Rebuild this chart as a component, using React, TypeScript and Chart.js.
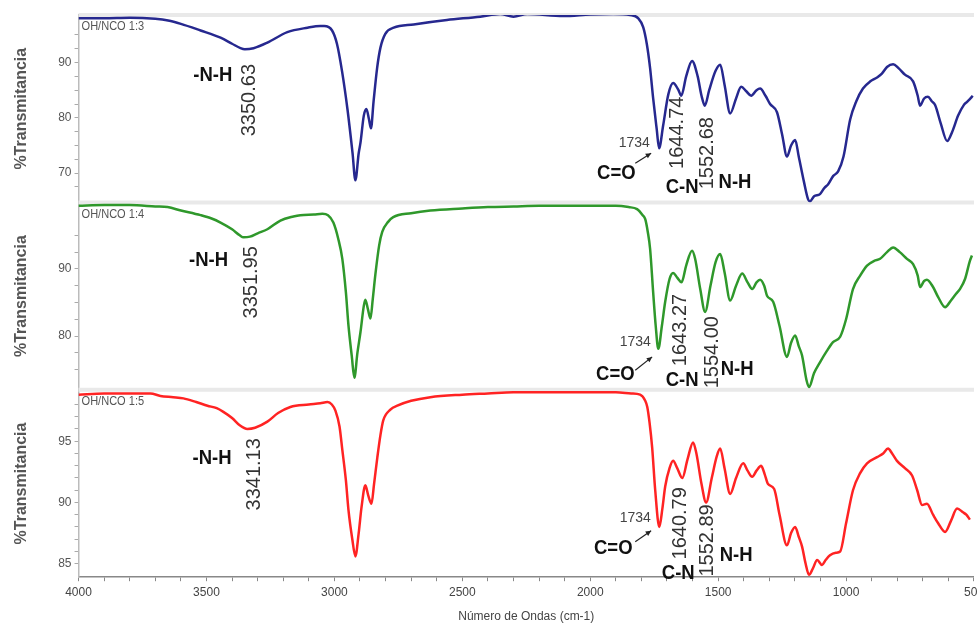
import React, { useEffect, useRef } from 'react';
import { Chart, registerables } from 'chart.js';

Chart.register(...registerables);

const SANS = "'Liberation Sans', Arial, sans-serif";

// ---------- data: wavenumber (cm-1) and % transmittance ----------
const wnBlue = [4000, 3900, 3800, 3700, 3650, 3600, 3523, 3445, 3400, 3367, 3350, 3316, 3262, 3184, 3105, 3055, 3040, 3009, 2990, 2970, 2949, 2929, 2918, 2905, 2898, 2885, 2875, 2865, 2857, 2847, 2833, 2820, 2801, 2768, 2690, 2560, 2430, 2352, 2300, 2246, 2105, 2000, 1910, 1844, 1812, 1793, 1779, 1766, 1754, 1740, 1731, 1715, 1695, 1676, 1656, 1644, 1625, 1602, 1580, 1565, 1552, 1535, 1510, 1492, 1475, 1453, 1430, 1410, 1390, 1371, 1350, 1336, 1315, 1297, 1270, 1250, 1231, 1215, 1199, 1185, 1165, 1148, 1141, 1125, 1102, 1085, 1070, 1050, 1031, 1010, 984, 960, 934, 905, 879, 860, 840, 816, 795, 770, 738, 720, 711, 695, 680, 665, 652, 630, 605, 585, 562, 540, 527, 512, 505];
const tBlue = [98.0, 98.0, 98.1, 97.9, 97.6, 97.0, 95.8, 94.5, 93.4, 92.6, 92.4, 92.6, 93.6, 95.5, 96.3, 96.6, 96.6, 95.8, 93.4, 88.4, 81.6, 73.6, 68.7, 73.6, 75.5, 80.4, 81.6, 79.8, 78.1, 82.9, 89.0, 92.7, 95.2, 96.3, 96.9, 97.7, 98.3, 98.8, 98.3, 98.8, 98.4, 98.7, 98.8, 98.6, 98.0, 96.4, 93.4, 89.0, 83.5, 77.9, 74.5, 78.6, 84.2, 86.3, 85.1, 84.0, 87.5, 90.3, 87.5, 84.0, 82.2, 85.0, 88.5, 89.6, 86.0, 80.8, 83.5, 85.6, 84.8, 84.0, 85.0, 85.3, 84.0, 82.5, 81.0, 77.0, 73.0, 75.0, 76.0, 73.0, 68.5, 65.2, 64.9, 65.8, 66.2, 67.3, 68.0, 69.5, 70.3, 73.0, 79.7, 83.0, 85.3, 86.6, 87.3, 88.0, 89.2, 89.7, 89.0, 87.8, 86.6, 84.0, 82.2, 83.5, 83.8, 83.0, 82.3, 79.0, 75.8, 77.5, 80.4, 82.3, 82.9, 83.6, 84.0];

const wnGreen = [4000, 3900, 3800, 3700, 3652, 3600, 3523, 3480, 3445, 3400, 3370, 3355, 3330, 3300, 3262, 3211, 3160, 3133, 3080, 3047, 3025, 3004, 2985, 2969, 2955, 2945, 2932, 2922, 2910, 2898, 2885, 2879, 2869, 2859, 2850, 2840, 2825, 2813, 2790, 2770, 2700, 2625, 2500, 2400, 2300, 2200, 2100, 2000, 1900, 1850, 1817, 1795, 1785, 1775, 1766, 1754, 1744, 1734, 1720, 1707, 1690, 1676, 1660, 1643, 1625, 1602, 1590, 1570, 1551, 1530, 1510, 1492, 1475, 1453, 1430, 1406, 1385, 1367, 1350, 1336, 1320, 1309, 1285, 1260, 1231, 1215, 1199, 1185, 1172, 1155, 1145, 1125, 1102, 1075, 1051, 1023, 1000, 973, 945, 918, 890, 867, 840, 816, 790, 762, 738, 720, 711, 695, 684, 660, 640, 613, 590, 570, 555, 535, 516, 508];
const tGreen = [99.4, 99.5, 99.5, 99.3, 99.2, 98.7, 98.0, 97.5, 96.9, 95.9, 95.0, 94.7, 94.8, 95.3, 95.9, 97.2, 97.8, 98.0, 98.1, 98.2, 98.0, 96.9, 94.5, 91.5, 86.5, 81.6, 77.0, 73.8, 77.5, 80.6, 84.5, 85.4, 84.0, 82.6, 85.5, 89.1, 93.5, 95.5, 97.0, 97.7, 98.3, 98.7, 99.0, 99.2, 99.3, 99.4, 99.4, 99.4, 99.4, 99.2, 98.9, 98.0, 97.4, 95.5, 93.0, 86.5, 81.5, 78.1, 81.5, 85.1, 88.5, 89.4, 88.7, 88.0, 90.5, 92.7, 91.5, 87.0, 83.6, 87.5, 91.0, 92.2, 89.5, 85.3, 87.5, 89.3, 88.0, 87.0, 88.0, 88.4, 87.5, 86.0, 85.1, 81.5, 76.9, 79.0, 80.1, 78.5, 77.1, 73.5, 72.4, 74.5, 76.1, 77.8, 79.1, 79.9, 82.5, 87.0, 89.0, 90.5, 91.2, 91.5, 92.5, 93.2, 92.5, 91.5, 90.7, 89.0, 87.3, 88.2, 88.4, 87.3, 85.8, 84.3, 85.3, 86.3, 87.0, 88.5, 91.2, 92.0];

const wnRed = [4000, 3900, 3800, 3719, 3680, 3630, 3590, 3540, 3496, 3460, 3434, 3400, 3370, 3340, 3310, 3262, 3220, 3172, 3100, 3055, 3027, 3010, 2996, 2980, 2969, 2955, 2945, 2930, 2918, 2905, 2894, 2879, 2868, 2855, 2845, 2832, 2820, 2809, 2780, 2754, 2700, 2625, 2500, 2400, 2300, 2200, 2100, 2000, 1900, 1840, 1805, 1785, 1777, 1768, 1758, 1746, 1730, 1718, 1707, 1690, 1676, 1660, 1640, 1620, 1598, 1585, 1565, 1547, 1525, 1505, 1492, 1475, 1453, 1430, 1402, 1385, 1367, 1350, 1332, 1318, 1305, 1281, 1260, 1231, 1215, 1199, 1185, 1172, 1158, 1145, 1130, 1113, 1094, 1080, 1063, 1040, 1023, 1000, 973, 945, 918, 879, 855, 836, 820, 801, 770, 742, 722, 703, 684, 660, 640, 613, 590, 566, 543, 530, 516];
const tRed = [98.8, 98.9, 98.9, 98.9, 98.7, 98.6, 98.5, 98.2, 97.9, 97.7, 97.4, 96.9, 96.3, 96.0, 96.1, 96.6, 97.3, 97.8, 98.0, 98.1, 98.2, 98.0, 97.5, 96.2, 94.3, 91.8, 89.4, 87.0, 85.6, 87.5, 89.6, 91.4, 90.6, 89.9, 91.5, 93.7, 95.5, 96.7, 97.6, 97.9, 98.3, 98.6, 98.8, 98.9, 99.0, 99.0, 99.0, 99.0, 99.0, 98.9, 98.8, 98.3, 97.8, 96.5, 94.5, 91.0, 88.0, 89.5, 91.3, 92.8, 93.4, 92.8, 92.0, 93.5, 94.9, 94.0, 91.5, 90.0, 92.0, 93.8, 94.4, 92.8, 90.7, 92.0, 93.2, 92.6, 92.1, 92.6, 93.0, 92.3, 91.5, 91.1, 89.0, 86.5, 87.5, 88.0, 87.2, 86.4, 85.0, 84.1, 84.6, 85.3, 84.9, 85.3, 85.7, 85.9, 86.0, 88.3, 91.0, 92.4, 93.2, 93.7, 94.0, 94.4, 94.0, 93.4, 92.8, 92.2, 91.0, 89.8, 89.9, 89.0, 88.3, 87.6, 88.5, 89.5, 89.2, 89.0, 88.6];

const panelNames = ['OH/NCO 1:3', 'OH/NCO 1:4', 'OH/NCO 1:5'];

// peak labels: [text, wavenumber, transmittance]
const boldBlue: [string, number, number][] = [['-N-H', 3475, 87.7], ['C=O', 1898, 69.9], ['C-N', 1641, 67.5], ['N-H', 1434, 68.4]];
const peaksBlue: [string, number, number][] = [['3350.63', 3330, 83.2], ['1644.74', 1660, 77.3], ['1552.68', 1543, 73.6]];
const markBlue: [string, number, number][] = [['1734', 1828, 75.5]];
const arrowBlue = [1824, 71.8, 1762, 73.6];

const boldGreen: [string, number, number][] = [['-N-H', 3492, 91.3], ['C=O', 1902, 74.3], ['C-N', 1641, 73.4], ['N-H', 1426, 75.1]];
const peaksGreen: [string, number, number][] = [['3351.95', 3324, 88.0], ['1643.27', 1648, 80.9], ['1554.00', 1523, 77.6]];
const markGreen: [string, number, number][] = [['1734', 1824, 79.1]];
const arrowGreen = [1824, 74.9, 1758, 76.9];

const boldRed: [string, number, number][] = [['-N-H', 3478, 93.6], ['C=O', 1910, 86.3], ['C-N', 1656, 84.2], ['N-H', 1430, 85.7]];
const peaksRed: [string, number, number][] = [['3341.13', 3312, 92.3], ['1640.79', 1648, 88.3], ['1552.89', 1543, 86.9]];
const markRed: [string, number, number][] = [['1734', 1824, 88.7]];
const arrowRed = [1824, 86.8, 1762, 87.7];

const panels = [
  { axis: 'yBlue', name: panelNames[0], bold: boldBlue, peaks: peaksBlue, marks: markBlue, arrow: arrowBlue },
  { axis: 'yGreen', name: panelNames[1], bold: boldGreen, peaks: peaksGreen, marks: markGreen, arrow: arrowGreen },
  { axis: 'yRed', name: panelNames[2], bold: boldRed, peaks: peaksRed, marks: markRed, arrow: arrowRed },
];

const toXY = (w: number[], t: number[]) => w.map((v, i) => ({ x: v, y: t[i] }));

function yAxis(min: number, max: number, step: number, labelEvery: number) {
  return {
    type: 'linear' as const,
    position: 'left' as const,
    stack: 'ir',
    stackWeight: 1,
    min,
    max,
    afterBuildTicks: (scale: any) => {
      scale.ticks = scale.ticks.filter((t: any) => Math.abs(t.value / step - Math.round(t.value / step)) < 1e-6);
    },
    ticks: {
      stepSize: step,
      autoSkip: false,
      color: '#555',
      font: { family: SANS, size: 12 },
      padding: 3,
      callback: (v: any) => (Math.abs(v / labelEvery - Math.round(v / labelEvery)) < 1e-6 ? String(Math.round(v)) : ''),
    },
    grid: { drawOnChartArea: false, drawTicks: true, tickLength: 4, color: '#aaa' },
    border: { display: true, color: '#bbb', width: 1.5 },
    title: {
      display: true,
      text: '%Transmitancia',
      color: '#555',
      font: { family: SANS, size: 16, weight: 'bold' as const },
      padding: { top: 0, bottom: 24 },
    },
  };
}

function drawScaledText(ctx: any, txt: string, x: number, y: number, sx: number, rotate: boolean) {
  ctx.save();
  ctx.translate(x, y);
  if (rotate) ctx.rotate(-Math.PI / 2);
  ctx.scale(sx, 1);
  ctx.fillText(txt, 0, 0);
  ctx.restore();
}

const annotationPlugin = {
  id: 'irAnnotations',
  beforeDatasetsDraw(chart: any) {
    const { ctx, chartArea } = chart;
    ctx.save();
    panels.forEach((p) => {
      const s = chart.scales[p.axis];
      ctx.strokeStyle = '#e9e9e9';
      ctx.lineWidth = 4;
      ctx.beginPath();
      ctx.moveTo(chartArea.left, s.top);
      ctx.lineTo(chartArea.right, s.top);
      ctx.stroke();
    });
    ctx.restore();
  },
  afterDatasetsDraw(chart: any) {
    const { ctx, chartArea } = chart;
    const xs = chart.scales.x;
    ctx.save();
    panels.forEach((p) => {
      const s = chart.scales[p.axis];
      // panel name
      ctx.fillStyle = '#555';
      ctx.font = `12px ${SANS}`;
      ctx.textAlign = 'left';
      ctx.textBaseline = 'top';
      drawScaledText(ctx, p.name, chartArea.left + 3, s.top + 6, 0.92, false);
      // bold group labels
      ctx.fillStyle = '#111';
      ctx.font = `bold 21px ${SANS}`;
      ctx.textAlign = 'center';
      ctx.textBaseline = 'middle';
      p.bold.forEach(([txt, w, t]) => drawScaledText(ctx, txt, xs.getPixelForValue(w), s.getPixelForValue(t), 0.88, false));
      // rotated peak wavenumbers
      ctx.fillStyle = '#333';
      ctx.font = `20px ${SANS}`;
      p.peaks.forEach(([txt, w, t]) => drawScaledText(ctx, txt, xs.getPixelForValue(w), s.getPixelForValue(t), 1, true));
      // 1734 mark
      ctx.fillStyle = '#444';
      ctx.font = `14px ${SANS}`;
      p.marks.forEach(([txt, w, t]) => drawScaledText(ctx, txt, xs.getPixelForValue(w), s.getPixelForValue(t), 1, false));
      // arrow
      const [w1, t1, w2, t2] = p.arrow;
      const x1 = xs.getPixelForValue(w1), y1 = s.getPixelForValue(t1);
      const x2 = xs.getPixelForValue(w2), y2 = s.getPixelForValue(t2);
      ctx.strokeStyle = '#222';
      ctx.fillStyle = '#222';
      ctx.lineWidth = 1.2;
      ctx.beginPath();
      ctx.moveTo(x1, y1);
      ctx.lineTo(x2, y2);
      ctx.stroke();
      const ang = Math.atan2(y2 - y1, x2 - x1);
      ctx.beginPath();
      ctx.moveTo(x2, y2);
      ctx.lineTo(x2 - 6 * Math.cos(ang - 0.45), y2 - 6 * Math.sin(ang - 0.45));
      ctx.lineTo(x2 - 6 * Math.cos(ang + 0.45), y2 - 6 * Math.sin(ang + 0.45));
      ctx.closePath();
      ctx.fill();
    });
    ctx.restore();
  },
};

export default function App() {
  const canvasRef = useRef<HTMLCanvasElement | null>(null);

  useEffect(() => {
    if (!canvasRef.current) return;
    const chart = new Chart(canvasRef.current, {
      type: 'line',
      data: {
        datasets: [
          { label: panelNames[0], data: toXY(wnBlue, tBlue), yAxisID: 'yBlue', borderColor: '#26288f', borderWidth: 2.5, pointRadius: 0, cubicInterpolationMode: 'monotone' },
          { label: panelNames[1], data: toXY(wnGreen, tGreen), yAxisID: 'yGreen', borderColor: '#2f982b', borderWidth: 2.5, pointRadius: 0, cubicInterpolationMode: 'monotone' },
          { label: panelNames[2], data: toXY(wnRed, tRed), yAxisID: 'yRed', borderColor: '#ff2323', borderWidth: 2.5, pointRadius: 0, cubicInterpolationMode: 'monotone' },
        ],
      },
      options: {
        animation: false,
        responsive: false,
        maintainAspectRatio: false,
        layout: { padding: { top: 15, left: 12, right: 0, bottom: 0 } },
        plugins: { legend: { display: false }, tooltip: { enabled: false } },
        scales: {
          x: {
            type: 'linear',
            reverse: true,
            min: 500,
            max: 4000,
            afterBuildTicks: (scale: any) => {
              scale.ticks = scale.ticks.filter((t: any) => t.value % 100 === 0);
            },
            ticks: {
              stepSize: 100,
              autoSkip: false,
              maxRotation: 0,
              color: '#444',
              font: { family: SANS, size: 12 },
              padding: 4,
              callback: (v: any) => (v % 500 === 0 ? String(v) : ''),
            },
            grid: { drawOnChartArea: false, drawTicks: true, tickLength: 4, color: '#888' },
            border: { display: true, color: '#888', width: 1.5 },
            title: {
              display: true,
              text: 'Número de Ondas (cm-1)',
              color: '#444',
              font: { family: SANS, size: 12 },
              padding: { top: 6, bottom: 2 },
            },
          },
          yRed: yAxis(83.9, 99.2, 1, 5),
          yGreen: yAxis(72, 99.9, 2.5, 10),
          yBlue: yAxis(64.7, 98.6, 2.5, 10),
        },
      },
      plugins: [annotationPlugin],
    });
    return () => chart.destroy();
  }, []);

  return (
    <div style={{ position: 'absolute', left: 0, top: 0, width: 977, height: 626, overflow: 'hidden', background: '#fff' }}>
      <canvas ref={canvasRef} width={988} height={626} style={{ display: 'block' }} />
    </div>
  );
}
